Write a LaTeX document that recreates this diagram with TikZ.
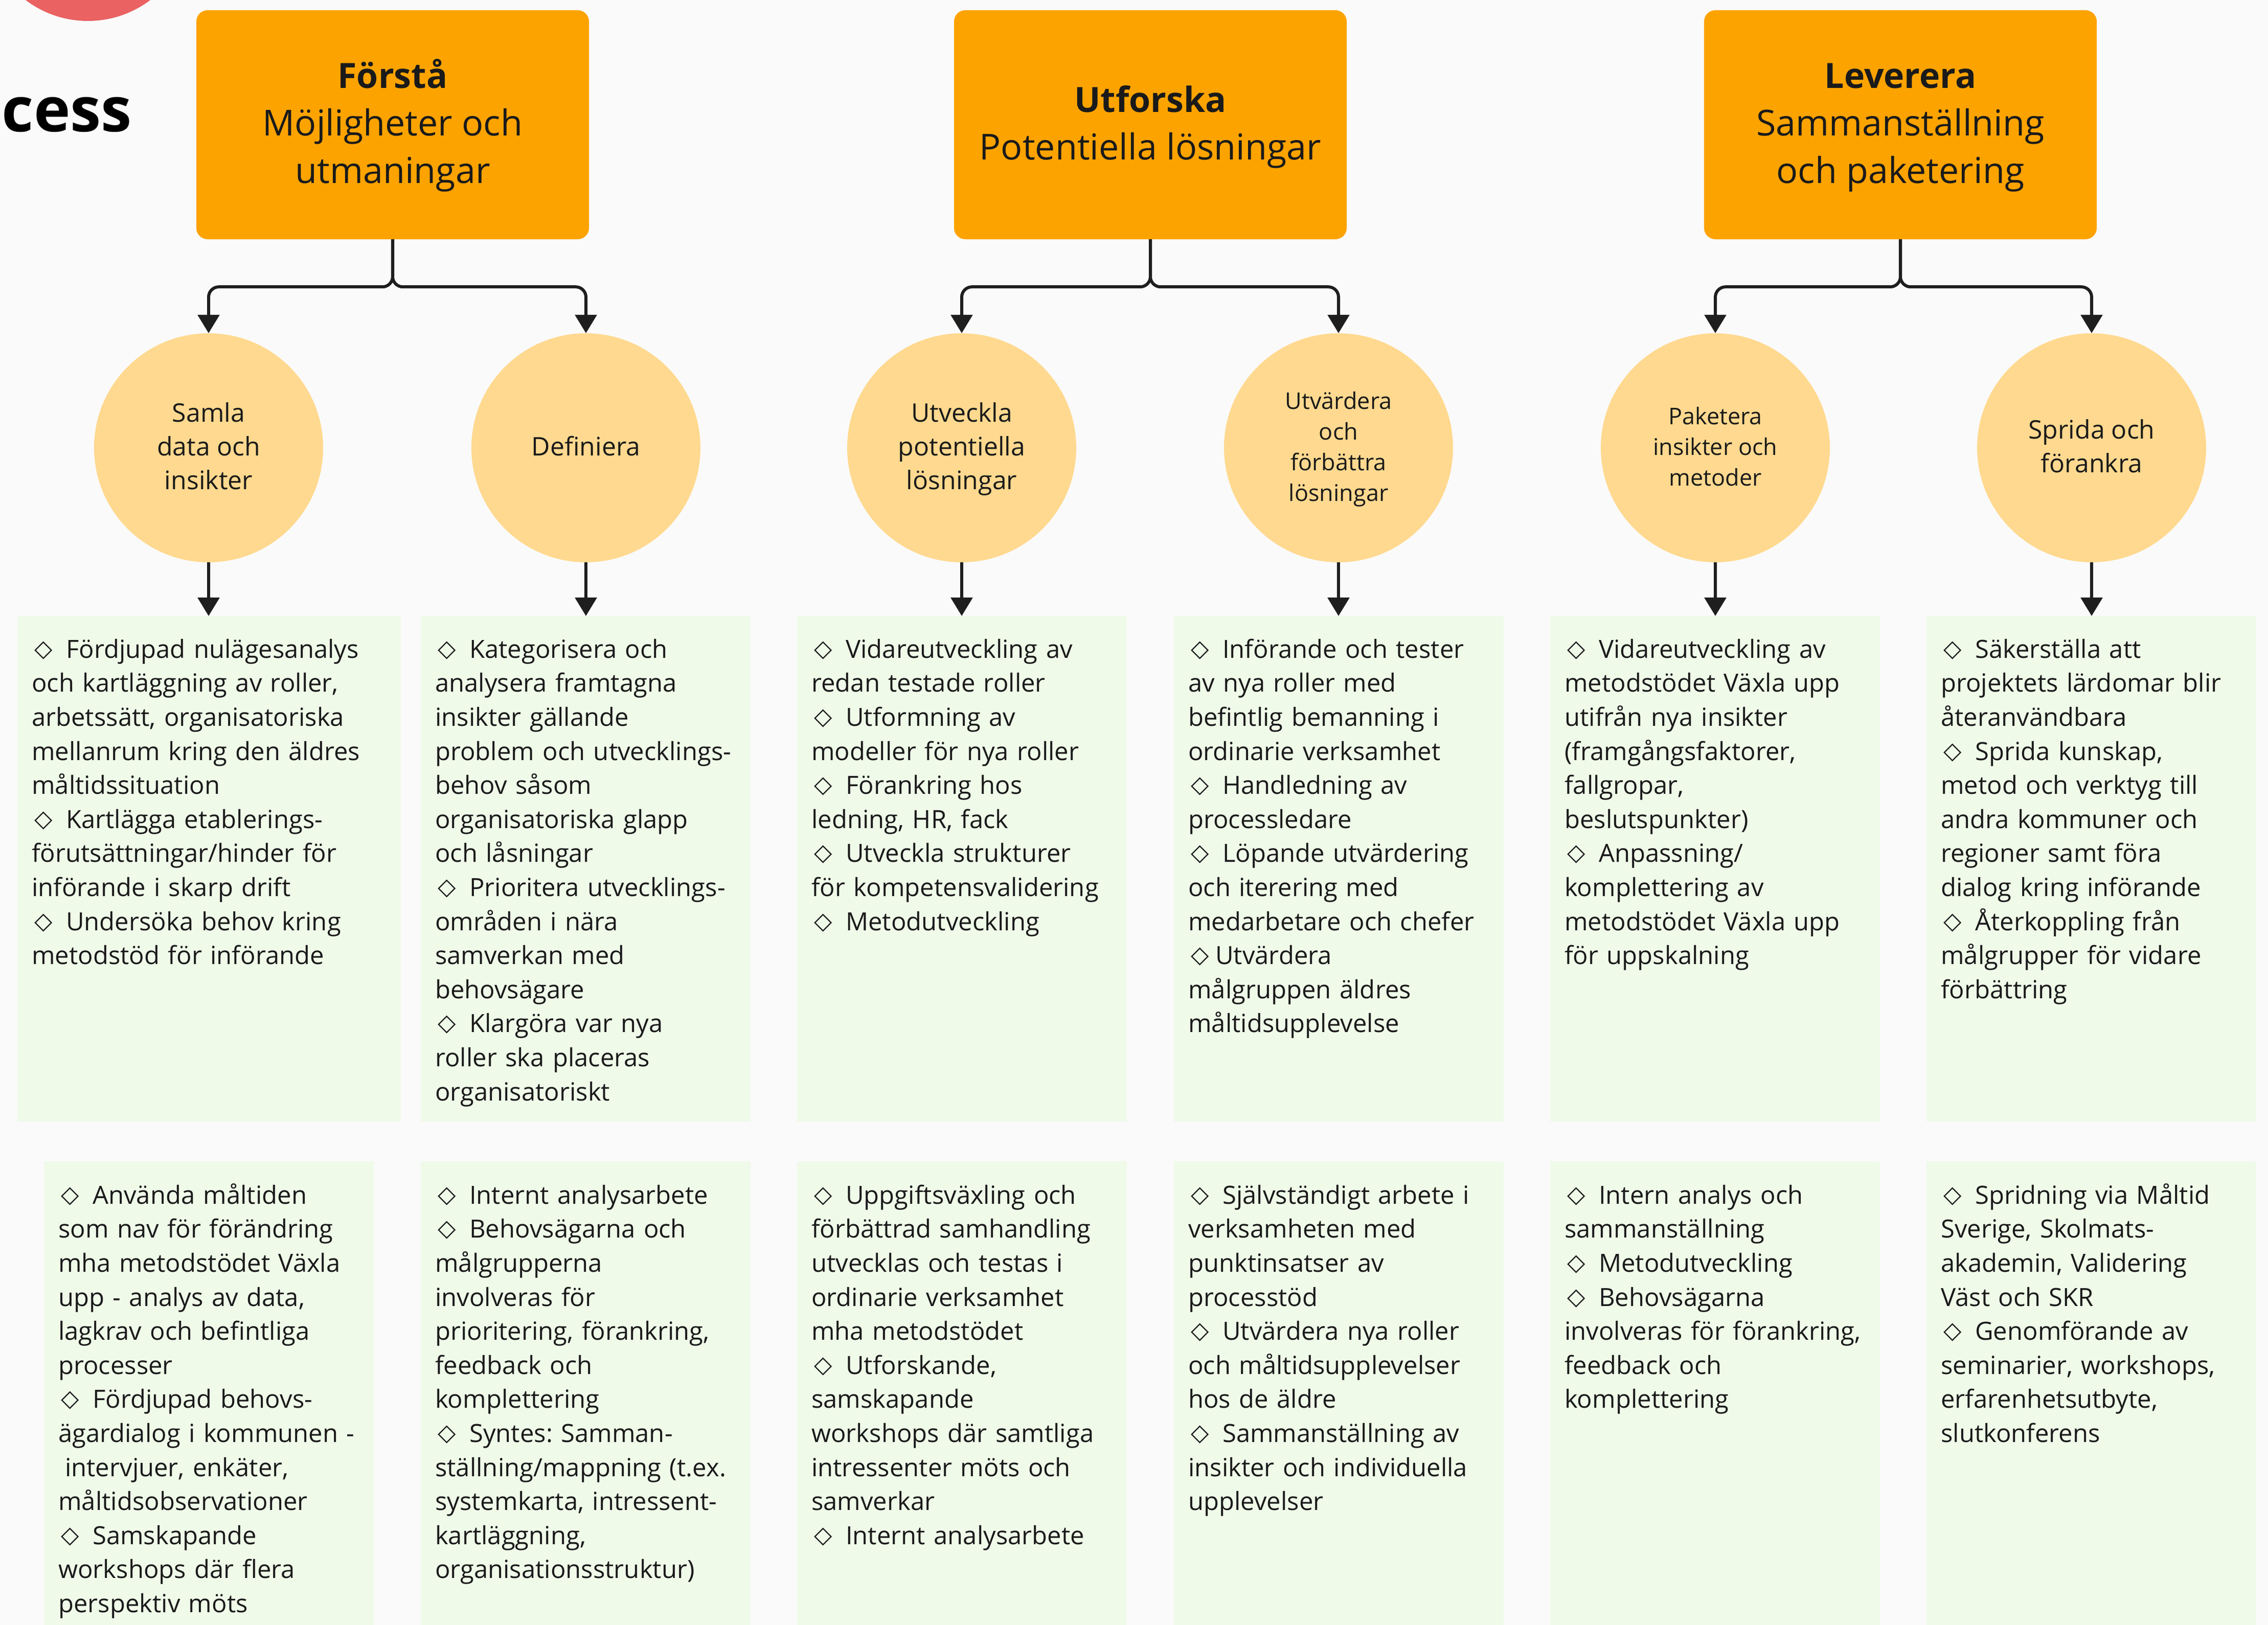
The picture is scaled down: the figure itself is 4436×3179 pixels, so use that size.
\documentclass[tikz,border=0pt]{standalone}
\usepackage{fontspec}
\setmainfont{Open Sans}
\newfontfamily\dejavu{DejaVu Sans}
\usetikzlibrary{arrows.meta}
\definecolor{bgc}{HTML}{FAFAFA}
\definecolor{orng}{HTML}{FDA300}
\definecolor{circ}{HTML}{FFD98F}
\definecolor{grn}{HTML}{EFFAE9}
\definecolor{redc}{HTML}{EA6262}
\definecolor{lin}{HTML}{1E1E1E}
\definecolor{txt}{HTML}{1A1A1A}
\frenchspacing
\newcommand\fs[2]{\fontsize{#1}{#2}\selectfont}
\newcommand\ph{\vphantom{Åg}}
\newcommand\myst{\rule{0pt}{60pt}}
\newcommand\dm{\makebox[67pt][l]{\hspace*{5pt}\raisebox{3pt}{\dejavu\fs{46}{46}◇}}}
\newcommand\dmt{\makebox[53pt][l]{\hspace*{5pt}\raisebox{3pt}{\dejavu\fs{46}{46}◇}}}
\tikzset{
  titlebox/.style={rectangle, rounded corners=22pt, fill=orng, minimum width=768pt, minimum height=448pt, inner sep=0pt, align=center, font=\fs{70}{93}, text=txt},
  stage/.style={circle, fill=circ, minimum size=448pt, inner sep=0pt, align=center, font=\fs{50}{66}, text=txt},
  stagesm/.style={stage, font=\fs{45}{60}},
  gbox/.style={rectangle, fill=grn, inner sep=0pt, anchor=north west, minimum width=645pt},
  btext/.style={anchor=north west, inner sep=0pt, text width=1000pt, align=left, font=\fs{49}{66.6}, text=txt},
  conn/.style={draw=lin, line width=6pt, -{Triangle[width=42pt,length=36pt]}},
}
\begin{document}
\begin{tikzpicture}[x=1pt,y=-1pt]
\useasboundingbox (0,0) rectangle (4436,3179);
\clip (0,0) rectangle (4436,3179);
\fill[bgc] (0,0) rectangle (4436,3179);
\fill[redc] (172,-161) circle[radius=202pt];
\node[anchor=base east, inner sep=0pt, font=\fs{121}{121}\bfseries, text=black] (ttl) at (258,258) {cess};

% title boxes
\node[titlebox] (t1) at (768,244) {{\fs{68}{93}\bfseries Förstå\ph}\\Möjligheter och\\utmaningar\ph};
\node[titlebox] (t2) at (2250,244) {{\fs{68}{93}\bfseries Utforska\ph}\\Potentiella lösningar\ph};
\node[titlebox] (t3) at (3717,244) {{\fs{68}{93}\bfseries Leverera\ph}\\Sammanställning\\och paketering\ph};

% circles
\node[stage] (c1) at (408,876) {Samla\ph\\data och\\insikter\ph};
\node[stage] (c2) at (1146,876) {Definiera\ph};
\node[stage] (c3) at (1881,876) {Utveckla\ph\\potentiella\\lösningar\ph};
\node[stagesm] (c4) at (2618,876) {Utvärdera\ph\\och\\förbättra\\lösningar\ph};
\node[stagesm] (c5) at (3355,876) {Paketera\ph\\insikter och\\metoder\ph};
\node[stage] (c6) at (4091,876) {Sprida och\ph\\förankra\ph};

% upper green boxes
\node[gbox, minimum width=750pt, minimum height=989pt] (u1) at (34,1205) {};
\node[gbox, minimum height=989pt] (u2) at (823,1205) {};
\node[gbox, minimum height=989pt] (u3) at (1559,1205) {};
\node[gbox, minimum height=989pt] (u4) at (2296,1205) {};
\node[gbox, minimum height=989pt] (u5) at (3032,1205) {};
\node[gbox, minimum height=989pt] (u6) at (3768,1205) {};

% lower green boxes
\node[gbox, minimum height=950pt] (l1) at (86,2272) {};
\node[gbox, minimum height=950pt] (l2) at (823,2272) {};
\node[gbox, minimum height=950pt] (l3) at (1559,2272) {};
\node[gbox, minimum height=950pt] (l4) at (2296,2272) {};
\node[gbox, minimum height=950pt] (l5) at (3032,2272) {};
\node[gbox, minimum height=950pt] (l6) at (3768,2272) {};

% connectors
\foreach \t/\a/\b in {t1/c1/c2, t2/c3/c4, t3/c5/c6}{
  \draw[conn, rounded corners=20pt] (\t.south) -- ++(0,93) -| (\a.north);
  \draw[conn, rounded corners=20pt] (\t.south) -- ++(0,93) -| (\b.north);
}
\foreach \c/\u in {c1/u1, c2/u2, c3/u3, c4/u4, c5/u5, c6/u6}{
  \draw[conn] (\c.south) -- (\c.south |- \u.north);
}

% upper texts
\node[btext] (u1t) at (62,1227) {\myst\dm Fördjupad nulägesanalys\\
och kartläggning av roller,\\
arbetssätt, organisatoriska\\
mellanrum kring den äldres\\
måltidssituation\\
\dm Kartlägga etablerings-\\
förutsättningar/hinder för\\
införande i skarp drift\\
\dm Undersöka behov kring\\
metodstöd för införande};

\node[btext] (u2t) at (851,1227) {\myst\dm Kategorisera och\\
analysera framtagna\\
insikter gällande\\
problem och utvecklings-\\
behov såsom\\
organisatoriska glapp\\
och låsningar\\
\dm Prioritera utvecklings-\\
områden i nära\\
samverkan med\\
behovsägare\\
\dm Klargöra var nya\\
roller ska placeras\\
organisatoriskt};

\node[btext] (u3t) at (1587,1227) {\myst\dm Vidareutveckling av\\
redan testade roller\\
\dm Utformning av\\
modeller för nya roller\\
\dm Förankring hos\\
ledning, HR, fack\\
\dm Utveckla strukturer\\
för kompetensvalidering\\
\dm Metodutveckling};

\node[btext] (u4t) at (2324,1227) {\myst\dm Införande och tester\\
av nya roller med\\
befintlig bemanning i\\
ordinarie verksamhet\\
\dm Handledning av\\
processledare\\
\dm Löpande utvärdering\\
och iterering med\\
medarbetare och chefer\\
\dmt Utvärdera\\
målgruppen äldres\\
måltidsupplevelse};

\node[btext] (u5t) at (3060,1227) {\myst\dm Vidareutveckling av\\
metodstödet Växla upp\\
utifrån nya insikter\\
(framgångsfaktorer,\\
fallgropar,\\
beslutspunkter)\\
\dm Anpassning/\\
komplettering av\\
metodstödet Växla upp\\
för uppskalning};

\node[btext] (u6t) at (3796,1227) {\myst\dm Säkerställa att\\
projektets lärdomar blir\\
återanvändbara\\
\dm Sprida kunskap,\\
metod och verktyg till\\
andra kommuner och\\
regioner samt föra\\
dialog kring införande\\
\dm Återkoppling från\\
målgrupper för vidare\\
förbättring};

% lower texts
\node[btext] (l1t) at (114,2295) {\myst\dm Använda måltiden\\
som nav för förändring\\
mha metodstödet Växla\\
upp - analys av data,\\
lagkrav och befintliga\\
processer\\
\dm Fördjupad behovs-\\
ägardialog i kommunen -\\
\hspace*{13pt}intervjuer, enkäter,\\
måltidsobservationer\\
\dm Samskapande\\
workshops där flera\\
perspektiv möts};

\node[btext] (l2t) at (851,2295) {\myst\dm Internt analysarbete\\
\dm Behovsägarna och\\
målgrupperna\\
involveras för\\
prioritering, förankring,\\
feedback och\\
komplettering\\
\dm Syntes: Samman-\\
ställning/mappning (t.ex.\\
systemkarta, intressent-\\
kartläggning,\\
organisationsstruktur)};

\node[btext] (l3t) at (1587,2295) {\myst\dm Uppgiftsväxling och\\
förbättrad samhandling\\
utvecklas och testas i\\
ordinarie verksamhet\\
mha metodstödet\\
\dm Utforskande,\\
samskapande\\
workshops där samtliga\\
intressenter möts och\\
samverkar\\
\dm Internt analysarbete};

\node[btext] (l4t) at (2324,2295) {\myst\dm Självständigt arbete i\\
verksamheten med\\
punktinsatser av\\
processtöd\\
\dm Utvärdera nya roller\\
och måltidsupplevelser\\
hos de äldre\\
\dm Sammanställning av\\
insikter och individuella\\
upplevelser};

\node[btext] (l5t) at (3060,2295) {\myst\dm Intern analys och\\
sammanställning\\
\dm Metodutveckling\\
\dm Behovsägarna\\
involveras för förankring,\\
feedback och\\
komplettering};

\node[btext] (l6t) at (3796,2295) {\myst\dm Spridning via Måltid\\
Sverige, Skolmats-\\
akademin, Validering\\
Väst och SKR\\
\dm Genomförande av\\
seminarier, workshops,\\
erfarenhetsutbyte,\\
slutkonferens};
\end{tikzpicture}
\end{document}
